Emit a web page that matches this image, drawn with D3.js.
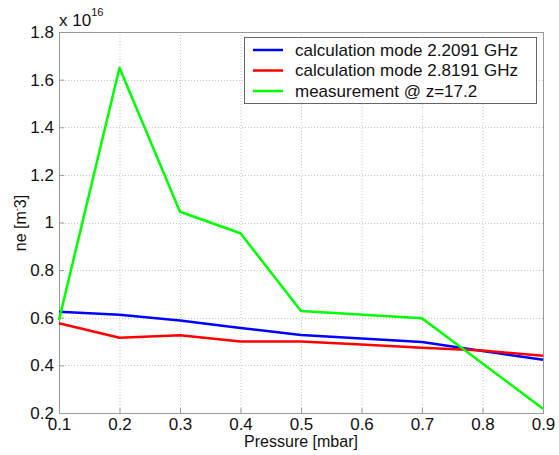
<!DOCTYPE html>
<html>
<head>
<meta charset="utf-8">
<script src="https://cdn.jsdelivr.net/npm/d3@7"></script>
<style>
    body { margin: 0; background: #fff; }
    svg { font-family: "Liberation Sans", Arial, sans-serif; }
</style>
</head>
<body>
<script>
const WIDTH = 559
const HEIGHT = 455

const PADDING = {
    left: 59,
    right: 16,
    top: 32,
    bottom: 42
}

// data (y in units of 1e16 m^-3)
const xTicks = [0.1, 0.2, 0.3, 0.4, 0.5, 0.6, 0.7, 0.8, 0.9]
const yTicks = [0.2, 0.4, 0.6, 0.8, 1, 1.2, 1.4, 1.6, 1.8]

const pressure = [0.1, 0.2, 0.3, 0.4, 0.5, 0.6, 0.7, 0.8, 0.9]
const mode1 = [0.625, 0.613, 0.588, 0.557, 0.528, 0.513, 0.498, 0.46, 0.424]
const mode2 = [0.577, 0.516, 0.527, 0.5, 0.5, 0.488, 0.474, 0.462, 0.44]

const measPressure = [0.1, 0.2, 0.3, 0.4, 0.5, 0.7, 0.9]
const measurement = [0.59, 1.65, 1.045, 0.955, 0.628, 0.598, 0.218]

const seriesNames = ["calculation mode 2.2091 GHz", "calculation mode 2.8191 GHz", "measurement @ z=17.2"]
const seriesColors = ["#0000ff", "#ff0000", "#00ff00"]

const svg = d3.select("body")
    .append("svg")
    .attr("width", WIDTH)
    .attr("height", HEIGHT)

const xScale = d3.scaleLinear()
    .domain([0.1, 0.9])
    .range([PADDING.left, WIDTH - PADDING.right])

const yScale = d3.scaleLinear()
    .domain([0.2, 1.8])
    .range([HEIGHT - PADDING.bottom, PADDING.top])

// grid
const grid = svg.append("g")
    .attr("stroke", "#c8c8c8")
    .attr("stroke-dasharray", "1,2")

grid.selectAll(".gx")
    .data(xTicks.slice(1, -1))
    .enter()
    .append("line")
    .attr("x1", d => xScale(d) + 0.5)
    .attr("x2", d => xScale(d) + 0.5)
    .attr("y1", PADDING.top)
    .attr("y2", HEIGHT - PADDING.bottom)

grid.selectAll(".gy")
    .data(yTicks.slice(1, -1))
    .enter()
    .append("line")
    .attr("y1", d => Math.round(yScale(d)) + 0.5)
    .attr("y2", d => Math.round(yScale(d)) + 0.5)
    .attr("x1", PADDING.left)
    .attr("x2", WIDTH - PADDING.right)

// box
svg.append("rect")
    .attr("x", PADDING.left + 0.5)
    .attr("y", PADDING.top + 0.5)
    .attr("width", WIDTH - PADDING.left - PADDING.right)
    .attr("height", HEIGHT - PADDING.top - PADDING.bottom)
    .attr("fill", "none")
    .attr("stroke", "#999")

const xAxis = d3.axisBottom(xScale)
    .tickValues(xTicks)
    .tickSizeInner(-5)
    .tickSizeOuter(0)
    .tickPadding(5)
    .tickFormat(d3.format("~g"))

const yAxis = d3.axisLeft(yScale)
    .tickValues(yTicks)
    .tickSizeInner(-5)
    .tickSizeOuter(0)
    .tickPadding(5)
    .tickFormat(d3.format("~g"))

const gx = svg.append("g")
    .attr("transform", "translate(0, " + (HEIGHT - PADDING.bottom) + ")")
    .call(xAxis)

const gy = svg.append("g")
    .attr("transform", "translate(" + PADDING.left + ", 0)")
    .call(yAxis)

svg.selectAll(".domain").remove()
svg.selectAll(".tick line").attr("stroke", "#999")
svg.selectAll(".tick text")
    .attr("fill", "#111")
    .style("font-size", "17px")
    .style("font-family", "'Liberation Sans', Arial, sans-serif")

// exponent
const expo = svg.append("text")
    .attr("x", PADDING.left)
    .attr("y", 26)
    .style("font-size", "17px")
    .attr("fill", "#111")
expo.append("tspan").text("x 10")
expo.append("tspan")
    .attr("dy", -10)
    .style("font-size", "11px")
    .text("16")

// axis labels
svg.append("text")
    .attr("x", (PADDING.left + WIDTH - PADDING.right) / 2)
    .attr("y", HEIGHT - 8)
    .attr("text-anchor", "middle")
    .style("font-size", "16px")
    .attr("fill", "#111")
    .text("Pressure [mbar]")

const ylab = svg.append("text")
    .attr("transform", "translate(26, 223) rotate(-90)")
    .attr("text-anchor", "middle")
    .style("font-size", "16px")
    .attr("fill", "#111")
ylab.append("tspan").text("ne [m")
ylab.append("tspan").attr("dy", -6).style("font-size", "9px").text("-")
ylab.append("tspan").attr("dy", 6).text("3]")

// lines
const line = d3.line()
    .x(d => xScale(d[0]))
    .y(d => yScale(d[1]))

const series = [
    d3.zip(pressure, mode1),
    d3.zip(pressure, mode2),
    d3.zip(measPressure, measurement)
]

const plot = svg.append("g")
plot.selectAll("path")
    .data(series)
    .enter()
    .append("path")
    .attr("d", line)
    .attr("fill", "none")
    .attr("stroke", (d, i) => seriesColors[i])
    .attr("stroke-width", 2.5)
    .attr("stroke-linejoin", "round")

// legend
const legend = svg.append("g")
    .attr("transform", "translate(244, 37)")

legend.append("rect")
    .attr("x", 0.5)
    .attr("y", 0.5)
    .attr("width", 292)
    .attr("height", 66)
    .attr("fill", "#fff")
    .attr("stroke", "#666")

const item = legend.selectAll(".item")
    .data(seriesNames)
    .enter()
    .append("g")
    .attr("transform", (d, i) => "translate(0, " + (13 + i * 20.5) + ")")

item.append("line")
    .attr("x1", 9)
    .attr("x2", 39)
    .attr("stroke", (d, i) => seriesColors[i])
    .attr("stroke-width", 2.5)

item.append("text")
    .attr("x", 51)
    .attr("dy", "0.35em")
    .style("font-size", "17px")
    .attr("fill", "#111")
    .text(d => d)
</script>
</body>
</html>
